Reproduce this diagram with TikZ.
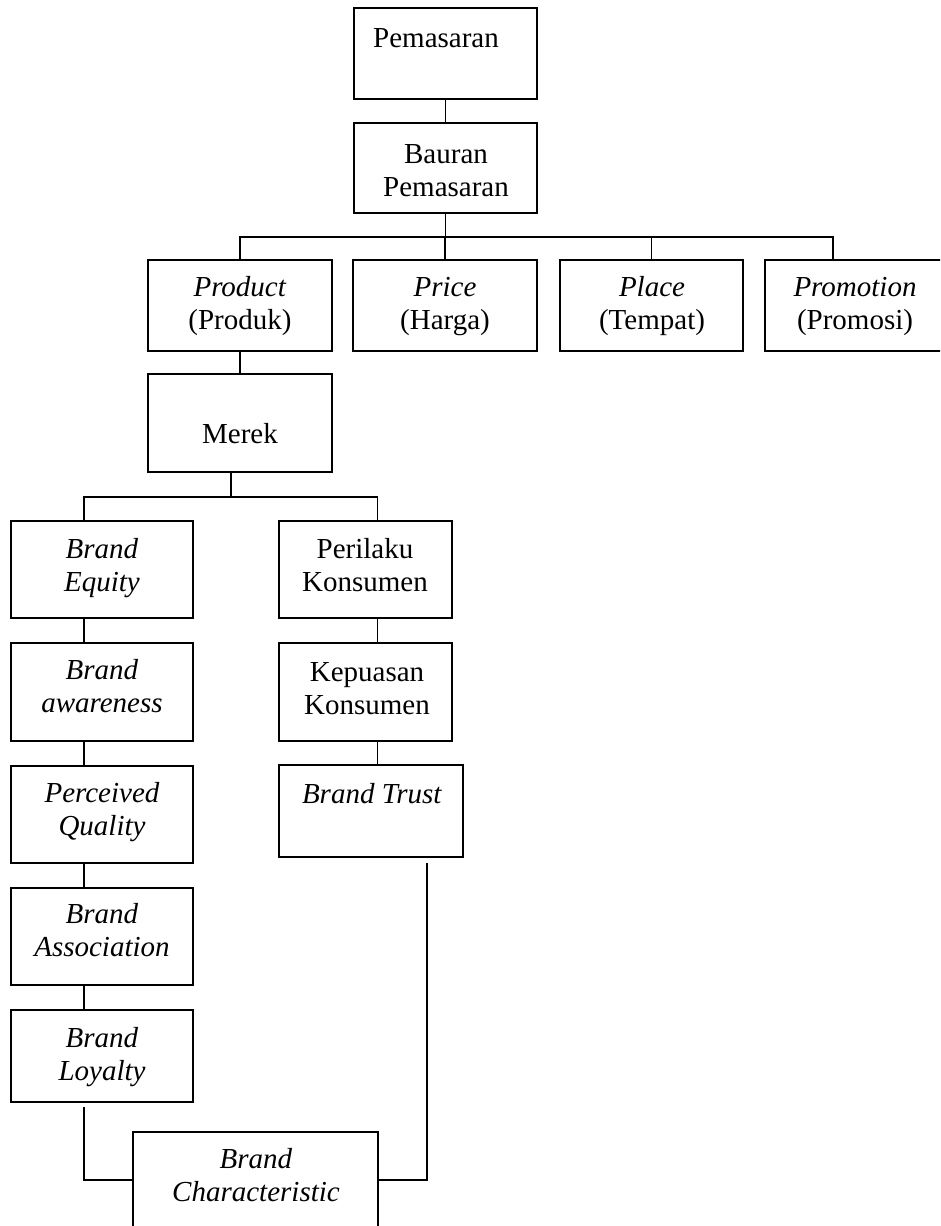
\documentclass[tikz,border=0pt]{standalone}
\usepackage{fontspec}
\setmainfont{Liberation Serif}
\newcommand{\twoline}[2]{\begin{tabular}[t]{@{}c@{}}#1\\#2\end{tabular}}
\begin{document}
\begin{tikzpicture}[x=1pt,y=-1pt,
  box/.style={draw,rectangle,line width=1.9pt,inner sep=0pt,outer sep=0pt},
  lbl/.style={anchor=base,inner sep=0pt,font=\fontsize{29}{33.5}\selectfont},
  conn/.style={line width=1.9pt}]
\path[use as bounding box,clip] (0,0) rectangle (940,1226);
% boxes
\node[box,minimum width=183pt,minimum height=91pt] (pem) at (445.5,53.5) {};
\node[box,minimum width=183pt,minimum height=90pt] (bau) at (445.5,168) {};
\node[box,minimum width=184pt,minimum height=91pt] (prod) at (240,305.5) {};
\node[box,minimum width=184pt,minimum height=91pt] (price) at (445,305.5) {};
\node[box,minimum width=183pt,minimum height=91pt] (place) at (651.5,305.5) {};
\node[box,minimum width=180pt,minimum height=91pt] (promo) at (855,305.5) {};
\node[box,minimum width=184pt,minimum height=98pt] (merek) at (240,423) {};
\node[box,minimum width=182pt,minimum height=97pt] (equity) at (102,569.5) {};
\node[box,minimum width=173pt,minimum height=97pt] (peril) at (365.5,569.5) {};
\node[box,minimum width=182pt,minimum height=98pt] (aware) at (102,692) {};
\node[box,minimum width=173pt,minimum height=98pt] (kepu) at (365.5,692) {};
\node[box,minimum width=182pt,minimum height=97pt] (perc) at (102,814.5) {};
\node[box,minimum width=184pt,minimum height=92pt] (trust) at (371,811) {};
\node[box,minimum width=182pt,minimum height=97pt] (assoc) at (102,936.5) {};
\node[box,minimum width=182pt,minimum height=92pt] (loyal) at (102,1056) {};
\node[box,minimum width=245pt,minimum height=96pt] (charac) at (255.5,1180) {};
% texts
\node[lbl] (tpem) at (436,47) {Pemasaran};
\node[lbl] (tbau) at (446,163) {\twoline{Bauran}{Pemasaran}};
\node[lbl] (tprod) at (240,296) {\twoline{\textit{Product}}{(Produk)}};
\node[lbl] (tprice) at (445,296) {\twoline{\textit{Price}}{(Harga)}};
\node[lbl] (tplace) at (652,296) {\twoline{\textit{Place}}{(Tempat)}};
\node[lbl] (tpromo) at (855,296) {\twoline{\textit{Promotion}}{(Promosi)}};
\node[lbl] (tmerek) at (240,443) {Merek};
\node[lbl] (tequity) at (102,558) {\twoline{\textit{Brand}}{\textit{Equity}}};
\node[lbl] (tperil) at (365,558) {\twoline{Perilaku}{Konsumen}};
\node[lbl] (taware) at (102,679) {\twoline{\textit{Brand}}{\textit{awareness}}};
\node[lbl] (tkepu) at (367,681) {\twoline{Kepuasan}{Konsumen}};
\node[lbl] (ttrust) at (372,803) {\textit{Brand Trust}};
\node[lbl] (tperc) at (102,802) {\twoline{\textit{Perceived}}{\textit{Quality}}};
\node[lbl] (tassoc) at (102,923) {\twoline{\textit{Brand}}{\textit{Association}}};
\node[lbl] (tloyal) at (102,1047) {\twoline{\textit{Brand}}{\textit{Loyalty}}};
\node[lbl] (tchar) at (256,1168) {\twoline{\textit{Brand}}{\textit{Characteristic}}};
% connectors
\coordinate (bar) at (0,237);
\coordinate (bar2) at (0,497);
\draw[conn] (pem.south) -- (bau.north);
\draw[conn] (bau.south) -- (bau.south |- bar);
\draw[conn] (prod.north) -- (prod.north |- bar) -- ([xshift=-22pt]promo.north |- bar) -- ([xshift=-22pt]promo.north);
\draw[conn] (price.north) -- (price.north |- bar);
\draw[conn] (place.north) -- (place.north |- bar);
\draw[conn] (prod.south) -- (merek.north);
\draw[conn] ([xshift=-9pt]merek.south) -- ([xshift=-9pt]merek.south |- bar2);
\draw[conn] ([xshift=-18pt]equity.north) -- ([xshift=-18pt]equity.north |- bar2) -- ([xshift=12pt]peril.north |- bar2) -- ([xshift=12pt]peril.north);
\draw[conn] ([xshift=-18pt]equity.south) -- ([xshift=-18pt]aware.north);
\draw[conn] ([xshift=-18pt]aware.south) -- ([xshift=-18pt]perc.north);
\draw[conn] ([xshift=-18pt]perc.south) -- ([xshift=-18pt]assoc.north);
\draw[conn] ([xshift=-18pt]assoc.south) -- ([xshift=-18pt]loyal.north);
\draw[conn] ([xshift=12pt]peril.south) -- ([xshift=12pt]kepu.north);
\draw[conn] ([xshift=12pt]kepu.south) -- ([xshift=6.5pt]trust.north);
\draw[conn] ([xshift=-18pt,yshift=-5pt]loyal.south) |- (charac.west);
\draw[conn] ([xshift=56pt,yshift=-6pt]trust.south) |- (charac.east);
\end{tikzpicture}
\end{document}
